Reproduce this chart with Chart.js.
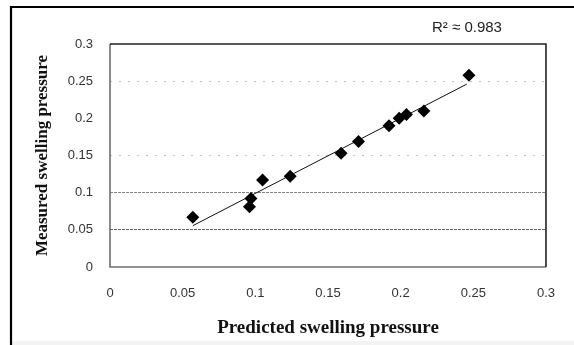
<!DOCTYPE html>
<html>
<head>
<meta charset="utf-8">
<script src="https://cdn.jsdelivr.net/npm/chart.js@4/dist/chart.umd.min.js"></script>
<style>
  html, body { margin: 0; padding: 0; background: #fff; }
  #wrap { width: 574px; height: 345px; position: relative; }
</style>
</head>
<body>
<div id="wrap"><canvas id="c" width="574" height="345"></canvas></div>
<script>
// ---- data ----
const predicted = [0.057, 0.096, 0.097, 0.105, 0.124, 0.159, 0.171, 0.192, 0.199, 0.204, 0.216, 0.247];
const measured  = [0.067, 0.081, 0.092, 0.117, 0.122, 0.153, 0.169, 0.190, 0.200, 0.205, 0.210, 0.258];
const trendX = [0.057, 0.2455];
const trendY = [0.0556, 0.246];
const xTickLabels = ['0', '0.05', '0.1', '0.15', '0.2', '0.25', '0.3'];
const yTickLabels = ['0', '0.05', '0.1', '0.15', '0.2', '0.25', '0.3'];
const r2Text = 'R\u00B2 \u2248 0.983';
const xTitle = 'Predicted swelling pressure';
const yTitle = 'Measured swelling pressure';

const points = predicted.map((x, i) => ({ x: x, y: measured[i] }));
const trend = trendX.map((x, i) => ({ x: x, y: trendY[i] }));

function gridIndex(ctx) { return ctx.index; }

const decor = {
  id: 'decor',
  beforeDraw(chart) {
    const c = chart.ctx;
    c.save();
    c.fillStyle = '#ffffff';
    c.fillRect(0, 0, chart.width, chart.height);
    c.fillStyle = '#f3f3f3';
    c.fillRect(12, 341, chart.width - 12, 4);
    c.restore();
  },
  afterDraw(chart) {
    const c = chart.ctx;
    const a = chart.chartArea;
    c.save();
    // outer frame
    c.strokeStyle = '#000';
    c.lineWidth = 2.2;
    c.beginPath();
    c.moveTo(11, chart.height + 5);
    c.lineTo(11, 7);
    c.lineTo(chart.width + 5, 7);
    c.stroke();
    // plot frame
    c.lineWidth = 1.6;
    c.strokeStyle = '#6e6e6e';
    c.beginPath();
    c.moveTo(a.left, a.top);
    c.lineTo(a.left, a.bottom);
    c.lineTo(a.right, a.bottom);
    c.stroke();
    c.strokeStyle = '#222';
    c.beginPath();
    c.moveTo(a.left, a.top);
    c.lineTo(a.right, a.top);
    c.lineTo(a.right, a.bottom);
    c.stroke();
    // R2 text
    c.fillStyle = '#222';
    c.font = '15px "Liberation Sans", Arial, sans-serif';
    c.textAlign = 'center';
    c.textBaseline = 'middle';
    c.fillText(r2Text, 467, 28);
    c.restore();
  }
};

const gridColors = ['rgba(0,0,0,0)', 'rgba(70,70,70,0.85)', 'rgba(100,100,100,0.8)', 'rgba(150,150,150,0.55)', 'rgba(0,0,0,0)', 'rgba(150,150,150,0.55)', 'rgba(0,0,0,0)'];
const gridDashes = [[], [3, 1], [3, 1], [2, 7], [], [2, 7], []];

new Chart(document.getElementById('c'), {
  type: 'scatter',
  data: {
    datasets: [
      {
        label: 'trend',
        data: trend,
        showLine: true,
        borderColor: '#111',
        borderWidth: 1,
        pointRadius: 0,
        fill: false,
        order: 2
      },
      {
        label: 'points',
        data: points,
        pointStyle: 'rectRot',
        pointRadius: 6.5,
        pointBackgroundColor: '#000',
        pointBorderColor: '#000',
        pointBorderWidth: 0,
        order: 1
      }
    ]
  },
  options: {
    responsive: false,
    animation: false,
    devicePixelRatio: 1,
    layout: { padding: { top: 44, right: 20, bottom: 0, left: 0 } },
    plugins: { legend: { display: false }, tooltip: { enabled: false } },
    scales: {
      x: {
        type: 'linear',
        min: 0, max: 0.3,
        afterFit(s) { s.height = 78; },
        grid: { display: false, drawTicks: false },
        border: { display: false },
        ticks: {
          stepSize: 0.05,
          padding: 19,
          color: '#333',
          font: { family: '"Liberation Sans", Arial, sans-serif', size: 13 },
          maxRotation: 0,
          callback: (v, i) => xTickLabels[i]
        },
        title: {
          display: true,
          text: xTitle,
          color: '#111',
          font: { family: '"Liberation Serif", "Times New Roman", serif', size: 19, weight: 'bold', lineHeight: 1.2 },
          padding: { top: 0, bottom: 6 }
        }
      },
      y: {
        type: 'linear',
        min: 0, max: 0.3,
        afterFit(s) { s.width = 110; },
        grid: {
          drawTicks: false,
          lineWidth: 1,
          color: (ctx) => gridColors[gridIndex(ctx)] || 'rgba(0,0,0,0)'
        },
        border: {
          display: false,
          dash: (ctx) => gridDashes[gridIndex(ctx)] || []
        },
        ticks: {
          stepSize: 0.05,
          padding: 17,
          color: '#333',
          font: { family: '"Liberation Sans", Arial, sans-serif', size: 13 },
          callback: (v, i) => yTickLabels[i]
        },
        title: {
          display: true,
          text: yTitle,
          color: '#111',
          font: { family: '"Liberation Serif", "Times New Roman", serif', size: 17, weight: 'bold', lineHeight: 1.2 },
          padding: { top: 32, bottom: 0 }
        }
      }
    }
  },
  plugins: [decor]
});
</script>
</body>
</html>
